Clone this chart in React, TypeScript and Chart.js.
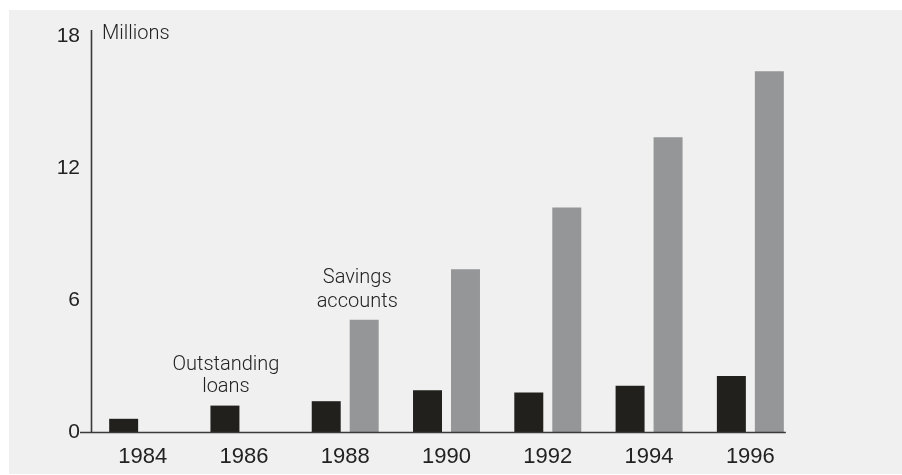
import React, { useEffect, useRef } from "react";
import { Chart, registerables } from "chart.js";

Chart.register(...registerables);

const categories = ["1984", "1986", "1988", "1990", "1992", "1994", "1996"];
const outstandingLoans = [0.6, 1.2, 1.4, 1.9, 1.8, 2.1, 2.55];
const savingsAccounts = [null, null, 5.1, 7.4, 10.2, 13.4, 16.4];
const yTicks = [0, 6, 12, 18];
const unitLabel = "Millions";
const loansLabel = ["Outstanding", "loans"];
const savingsLabel = ["Savings", "accounts"];

const NUM_FONT = "'Liberation Sans', Arial, sans-serif";
const TEXT_FONT = "Roboto, 'Liberation Sans', sans-serif";

const decorPlugin = {
  id: "decor",
  beforeDraw(chart: any) {
    const ctx = chart.ctx;
    ctx.save();
    ctx.fillStyle = "#ffffff";
    ctx.fillRect(0, 0, chart.width, chart.height);
    ctx.fillStyle = "#f0f0f0";
    ctx.fillRect(9, 10, chart.width - 9, chart.height - 11);
    ctx.restore();
  },
  afterDatasetsDraw(chart: any) {
    const ctx = chart.ctx;
    const area = chart.chartArea;
    const yScale = chart.scales.y;
    const base = Math.round(yScale.getPixelForValue(0)) + 0.5;
    const loansMeta = chart.getDatasetMeta(0);
    const savMeta = chart.getDatasetMeta(1);
    const lastBar = savMeta.data[savMeta.data.length - 1];
    const rightEnd = lastBar.x + lastBar.width / 2 + 2;
    ctx.save();
    ctx.strokeStyle = "#3a3a3a";
    ctx.lineWidth = 1.6;
    ctx.beginPath();
    ctx.moveTo(area.left - 0.5, area.top - 6);
    ctx.lineTo(area.left - 0.5, base);
    ctx.stroke();
    ctx.beginPath();
    ctx.moveTo(area.left - 12, base);
    ctx.lineTo(rightEnd, base);
    ctx.stroke();

    ctx.fillStyle = "#222222";
    ctx.font = "300 20px " + TEXT_FONT;
    ctx.textBaseline = "middle";
    ctx.textAlign = "left";
    ctx.fillText(unitLabel, area.left + 10, area.top - 2);

    ctx.textAlign = "center";
    const lb = loansMeta.data[1];
    ctx.fillText(loansLabel[0], lb.x + 1, lb.y - 41);
    ctx.fillText(loansLabel[1], lb.x + 1, lb.y - 19);
    const sb = savMeta.data[2];
    ctx.fillText(savingsLabel[0], sb.x - 7, sb.y - 42);
    ctx.fillText(savingsLabel[1], sb.x - 7, sb.y - 18);
    ctx.restore();
  },
};

export default function App() {
  const ref = useRef<HTMLCanvasElement>(null);
  useEffect(() => {
    document.body.style.margin = "0";
    const chart = new Chart(ref.current!, {
      type: "bar",
      data: {
        labels: categories,
        datasets: [
          {
            label: "Outstanding loans",
            data: outstandingLoans,
            backgroundColor: "#21201d",
            categoryPercentage: 0.75,
            barPercentage: 0.763,
          },
          {
            label: "Savings accounts",
            data: savingsAccounts as any,
            backgroundColor: "#959697",
            categoryPercentage: 0.75,
            barPercentage: 0.763,
          },
        ],
      },
      options: {
        animation: false,
        responsive: false,
        maintainAspectRatio: false,
        layout: { padding: { top: 36, right: 101, left: 0, bottom: 0 } },
        plugins: {
          legend: { display: false },
          tooltip: { enabled: false },
          title: { display: false },
        },
        scales: {
          x: {
            grid: { display: false, drawTicks: false },
            border: { display: false },
            ticks: {
              color: "#222222",
              font: { family: NUM_FONT, size: 22 },
              padding: 12,
              maxRotation: 0,
              autoSkip: false,
            },
            afterFit(scale: any) {
              scale.height = 43;
            },
          },
          y: {
            min: 0,
            max: 18,
            afterBuildTicks(scale: any) {
              scale.ticks = yTicks.map((v) => ({ value: v }));
            },
            grid: { display: false, drawTicks: false },
            border: { display: false },
            ticks: {
              color: "#222222",
              font: { family: NUM_FONT, size: 21 },
              padding: 12,
            },
            afterFit(scale: any) {
              scale.width = 92;
            },
          },
        },
      },
      plugins: [decorPlugin],
    });
    return () => chart.destroy();
  }, []);
  return <canvas ref={ref} width={902} height={475} style={{ display: "block" }} />;
}
